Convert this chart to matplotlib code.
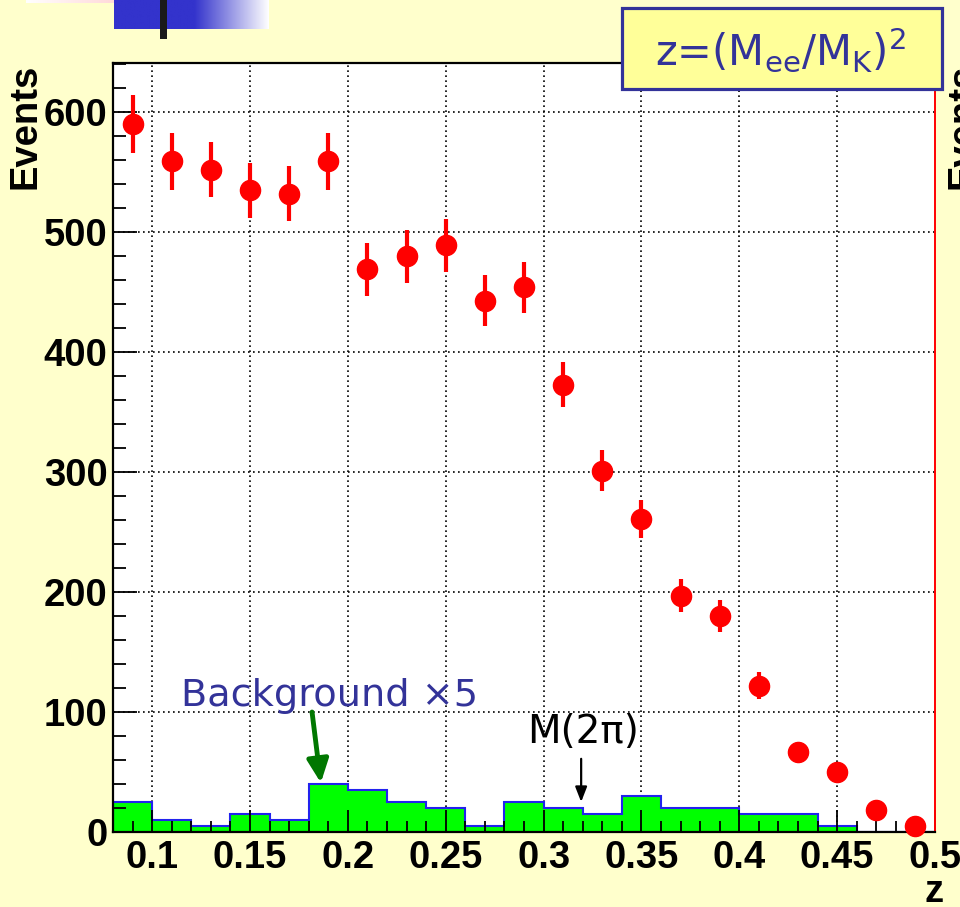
import numpy as np
import matplotlib
matplotlib.use("Agg")
import matplotlib.pyplot as plt
from matplotlib.patches import Rectangle

# ---- data ----
bin_edges = [0.08, 0.10, 0.12, 0.14, 0.16, 0.18, 0.20, 0.22, 0.24, 0.26, 0.28,
             0.30, 0.32, 0.34, 0.36, 0.38, 0.40, 0.42, 0.44, 0.46, 0.48, 0.50]
z_centers = [0.09, 0.11, 0.13, 0.15, 0.17, 0.19, 0.21, 0.23, 0.25, 0.27, 0.29,
             0.31, 0.33, 0.35, 0.37, 0.39, 0.41, 0.43, 0.45, 0.47, 0.49]
events = [590, 559, 552, 535, 532, 559, 469, 480, 489, 443, 454,
          373, 301, 261, 197, 180, 122, 67, 50, 18, 5]
errors = [24, 24, 23, 23, 23, 24, 22, 22, 22, 21, 21,
          19, 17, 16, 14, 13, 11, 8, 7, 4, 2]
background_x5 = [25, 10, 5, 15, 10, 40, 35, 25, 20, 5, 25,
                 20, 15, 30, 20, 20, 15, 15, 5, 0, 0]
x_ticks = [0.1, 0.15, 0.2, 0.25, 0.3, 0.35, 0.4, 0.45, 0.5]
x_ticklabels = ["0.1", "0.15", "0.2", "0.25", "0.3", "0.35", "0.4", "0.45", "0.5"]
y_ticks = [0, 100, 200, 300, 400, 500, 600]
y_ticklabels = ["0", "100", "200", "300", "400", "500", "600"]

BG = "#FFFFCC"
W, H = 960, 907
fig = plt.figure(figsize=(W / 100, H / 100), dpi=100, facecolor=BG)

ax = fig.add_axes([113 / W, 1 - 832 / H, (935 - 113) / W, (832 - 63) / H])
ax.set_facecolor("white")
ax.set_xlim(0.08, 0.50)
ax.set_ylim(0, 641)

# grid (manual so it sits below the histogram)
for xv in x_ticks[:-1]:
    ax.axvline(xv, color="black", lw=1.2, ls=(0, (1, 2.0)), zorder=0.5)
for yv in y_ticks[1:]:
    ax.axhline(yv, color="black", lw=1.2, ls=(0, (1, 2.0)), zorder=0.5)

# background histogram
ax.stairs(background_x5, bin_edges, fill=True, color="#00FF00", zorder=1)
ax.stairs(background_x5, bin_edges, fill=False, color="#2222EE", lw=1.5, zorder=1.1)

# data points
ax.errorbar(z_centers, events, yerr=errors, fmt="o", color="#FF0000",
            markersize=14.5, elinewidth=3, capsize=0, zorder=3, clip_on=False)

# ticks
ax.set_xticks(x_ticks)
ax.set_xticklabels(x_ticklabels)
ax.set_xticks(np.arange(0.08, 0.5001, 0.01), minor=True)
ax.set_yticks(y_ticks)
ax.set_yticklabels(y_ticklabels)
ax.set_yticks(np.arange(0, 641, 20), minor=True)
ax.tick_params(axis="x", which="major", direction="in", length=16, width=1.3,
               pad=6, labelsize=27.5, top=False)
ax.tick_params(axis="x", which="minor", direction="in", length=8, width=1.3, top=False)
ax.tick_params(axis="y", which="major", direction="in", length=17, width=1.3,
               pad=4, labelsize=27.5, right=False)
ax.tick_params(axis="y", which="minor", direction="in", length=9, width=1.3, right=False)
for lab in ax.get_xticklabels() + ax.get_yticklabels():
    lab.set_fontfamily("Liberation Sans")
    lab.set_fontweight("bold")

for s in ["left", "bottom", "top"]:
    ax.spines[s].set_linewidth(1.6)
    ax.spines[s].set_color("black")
ax.spines["right"].set_color("#FF0000")
ax.spines["right"].set_linewidth(1.4)

# annotations
ax.text(0.1147, 105, "Background \u00d75", color="#333399", fontsize=27.5,
        family="DejaVu Sans", ha="left", va="baseline", zorder=4)
ax.annotate("", xy=(0.1862, 41), xytext=(0.1817, 100),
            arrowprops=dict(arrowstyle="-|>,head_length=1.4,head_width=0.65",
                            color="#007700", lw=3.5, shrinkA=0, shrinkB=0), zorder=4)
ax.text(0.2916, 74.5, "M(2\u03c0)", color="black", fontsize=28,
        family="DejaVu Sans", ha="left", va="baseline", zorder=4)
ax.annotate("", xy=(0.3192, 25), xytext=(0.3192, 61),
            arrowprops=dict(arrowstyle="-|>,head_length=0.9,head_width=0.35",
                            color="black", lw=1.6, shrinkA=0, shrinkB=0), zorder=4)

# axis titles
fig.text(8 / W, 1 - 64 / H, "Events", rotation=90, ha="left", va="top",
         fontsize=27.5, fontweight="bold", family="Liberation Sans")
fig.text(945 / W, 1 - 64 / H, "Events", rotation=90, ha="left", va="top",
         fontsize=27.5, fontweight="bold", family="Liberation Sans")
fig.text(944 / W, 1 - 902 / H, "z", ha="right", va="baseline",
         fontsize=27.5, fontweight="bold", family="Liberation Sans")

# formula box
box = Rectangle((622 / W, 1 - 89 / H), (942 - 622) / W, (89 - 8) / H,
                transform=fig.transFigure, facecolor="#FFFF99",
                edgecolor="#333399", lw=2.3, zorder=5)
fig.patches.append(box)
fig.text(781 / W, 1 - 50 / H,
         r"z=(M$_{\mathregular{ee}}$/M$_{\mathregular{K}}$)$^{\mathregular{2}}$",
         ha="center", va="center", fontsize=30, color="#333399",
         family="DejaVu Sans", zorder=6)

# top-left decoration
pink_ax = fig.add_axes([26 / W, 1 - 3 / H, (145 - 26) / W, 3 / H])
grad = np.linspace(0, 1, 200)
pink = np.stack([np.ones_like(grad), 1 - 0.2 * grad, 1 - 0.2 * grad], axis=-1)[None, :, :]
pink_ax.imshow(pink, aspect="auto", extent=(0, 1, 0, 1))
pink_ax.axis("off")

blue_ax = fig.add_axes([114 / W, 1 - 29 / H, (269 - 114) / W, 29 / H])
t = np.linspace(0, 1, 300)
f = np.clip((t - 0.52) / 0.48, 0, 1)
blue_c = np.array([51, 51, 204]) / 255
img = (blue_c[None, :] * (1 - f[:, None]) + np.ones(3)[None, :] * f[:, None])[None, :, :]
blue_ax.imshow(img, aspect="auto", extent=(0, 1, 0, 1))
blue_ax.axis("off")

bar = Rectangle((160 / W, 1 - 39 / H), 7 / W, 39 / H, transform=fig.transFigure,
                facecolor="#1a1a1a", edgecolor="none", zorder=7)
fig.patches.append(bar)

fig.savefig("out.png", dpi=100, facecolor=BG)
